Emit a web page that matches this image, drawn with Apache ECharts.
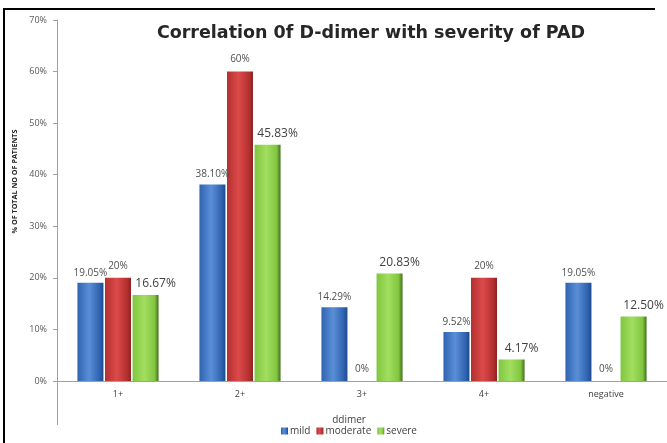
<!DOCTYPE html>
<html><head><meta charset="utf-8">
<script src="https://cdn.jsdelivr.net/npm/echarts@6/dist/echarts.min.js"></script>
<style>
html,body{margin:0;padding:0;background:#fff;overflow:hidden;width:667px;height:443px;}
#c{width:667px;height:443px;position:absolute;left:0;top:0;}
#frame{position:absolute;left:3px;top:8px;width:650px;height:435px;border-left:2px solid #000;border-top:2px solid #000;pointer-events:none;}
</style></head>
<body>
<div id="c"></div>
<div id="frame"></div>
<script>
const categories = ['1+', '2+', '3+', '4+', 'negative'];
const mild = [19.05, 38.10, 14.29, 9.52, 19.05];
const moderate = [20, 60, 0, 20, 0];
const severe = [16.67, 45.83, 20.83, 4.17, 12.50];
const mildLabels = ['19.05%', '38.10%', '14.29%', '9.52%', '19.05%'];
const moderateLabels = ['20%', '60%', '0%', '20%', '0%'];
const severeLabels = ['16.67%', '45.83%', '20.83%', '4.17%', '12.50%'];

function grad(a, b, c) {
  return new echarts.graphic.LinearGradient(0, 0, 1, 0, [
    {offset: 0, color: a}, {offset: 0.45, color: b}, {offset: 0.85, color: a}, {offset: 1, color: c}
  ]);
}
const chart = echarts.init(document.getElementById('c'));
function mk(name, data, labels, fill, labelSize, labelColor, offset) {
  return {
    name: name, type: 'bar', data: data,
    barWidth: 26, barGap: '6%',
    itemStyle: {color: fill, borderWidth: 0},
    label: {show: true, position: 'top', distance: 5, offset: offset,
      formatter: p => labels[p.dataIndex],
      fontSize: labelSize, color: labelColor, fontFamily: 'Open Sans'}
  };
}
chart.setOption({
  animation: false,
  title: [{
    text: 'Correlation 0f D-dimer with severity of PAD',
    left: 366, top: 19, textAlign: 'center',
    textStyle: {fontSize: 17.5, fontWeight: 'bold', color: '#262626', fontFamily: 'DejaVu Sans'}
  }, {
    text: 'ddimer', left: 344, top: 410, textAlign: 'center',
    textStyle: {fontSize: 10, fontWeight: 'normal', color: '#404040', fontFamily: 'Open Sans'}
  }],
  legend: {
    bottom: 2, left: 276, itemWidth: 7, itemHeight: 7, itemGap: 6,
    icon: 'rect', textStyle: {fontSize: 10, color: '#404040', fontFamily: 'Open Sans', padding: [0,0,0,-3]},
    data: ['mild', 'moderate', 'severe']
  },
  grid: {left: 57, right: -2, top: 20, bottom: 62, containLabel: false},
  xAxis: {
    type: 'category', data: categories,
    axisLine: {lineStyle: {color: '#a0a0a0'}},
    axisTick: {length: 22, lineStyle: {color: '#505050'}},
    axisLabel: {fontSize: 9, color: '#404040', margin: 9, fontFamily: 'Open Sans'}
  },
  yAxis: {
    type: 'value', min: 0, max: 70, interval: 10,
    name: '% OF TOTAL NO OF PATIENTS', nameLocation: 'middle', nameGap: 37,
    nameTextStyle: {fontSize: 7.2, fontWeight: 'bold', color: '#262626', fontFamily: 'Open Sans', padding: [0, 0, 0, 38]},
    axisLine: {show: true, lineStyle: {color: '#a0a0a0'}},
    axisTick: {show: true, length: 4, lineStyle: {color: '#a0a0a0'}},
    splitLine: {show: false},
    axisLabel: {formatter: '{value}%', fontSize: 9, color: '#595959', margin: 10, fontFamily: 'Open Sans'}
  },
  graphic: [{type: 'line', shape: {x1: 57.5, y1: 381, x2: 57.5, y2: 425}, style: {stroke: '#a0a0a0', lineWidth: 1}}],
  series: [
    mk('mild', mild, mildLabels, grad('#2f63b0', '#5a8fd8', '#1f4a8c'), 10, '#505050', [0, 0]),
    mk('moderate', moderate, moderateLabels, grad('#b33030', '#dc4a4a', '#8c2323'), 10, '#505050', [0, -2]),
    mk('severe', severe, severeLabels, grad('#80c640', '#a2de60', '#456e1c'), 12, '#404040', [10, 0])
  ],
  color: ['#3f75c6', '#c73a3a', '#8fcf4b']
});
</script>
</body></html>
